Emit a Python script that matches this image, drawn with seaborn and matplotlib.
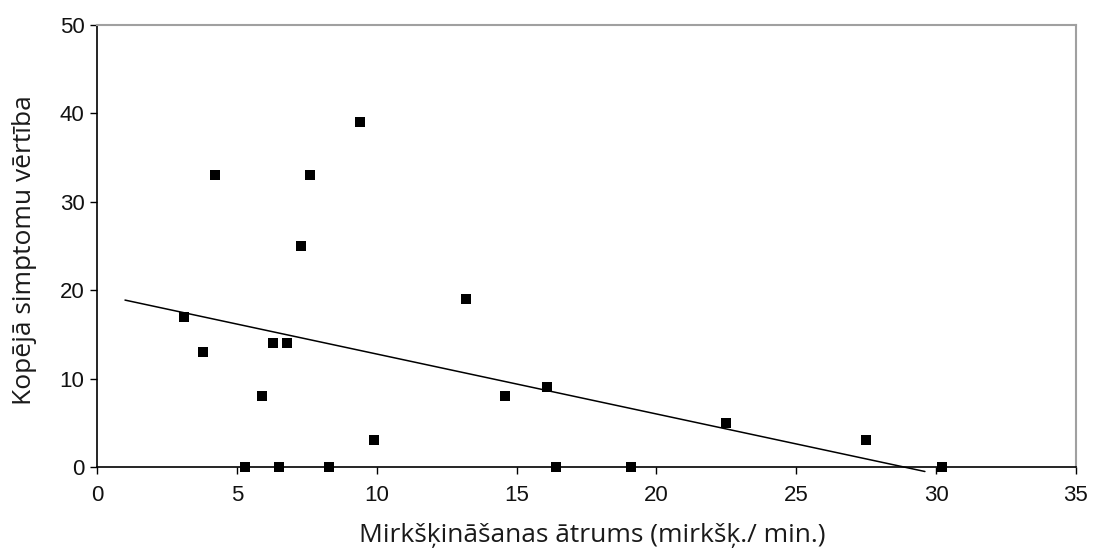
import matplotlib
matplotlib.use("Agg")
import matplotlib.pyplot as plt
import numpy as np
import pandas as pd
import seaborn as sns

# Blink rate (blinks/min) and total symptom score per subject
blink_rate = [3.1, 3.8, 4.2, 5.3, 5.9, 6.3, 6.5, 6.8, 7.3, 7.6, 8.3,
              9.4, 9.9, 13.2, 14.6, 16.1, 16.4, 19.1, 22.5, 27.5, 30.2]
symptom_score = [17, 13, 33, 0, 8, 14, 0, 14, 25, 33, 0,
                 39, 3, 19, 8, 9, 0, 0, 5, 3, 0]

# Linear trend line
trend_intercept = 19.56
trend_slope = -0.678
trend_x = [1.0, 29.6]

x_ticks = [0, 5, 10, 15, 20, 25, 30, 35]
y_ticks = [0, 10, 20, 30, 40, 50]

x_label = "Mirkšķināšanas ātrums (mirkšķ./ min.)"
y_label = "Kopējā simptomu vērtība"

sns.set_theme(style="white")
plt.rcParams["font.family"] = ["Liberation Sans", "DejaVu Sans"]

df = pd.DataFrame({"x": blink_rate, "y": symptom_score})
trend_df = pd.DataFrame({"x": trend_x,
                         "y": [trend_intercept + trend_slope * v for v in trend_x]})

fig = plt.figure(figsize=(10.94, 5.48), dpi=100)
ax = fig.add_axes([0.0887, 0.1478, 0.8948, 0.8066])

sns.lineplot(data=trend_df, x="x", y="y", ax=ax, color="black", linewidth=1.1,
             zorder=2)
for line in ax.lines:
    line.set_clip_on(False)
sns.scatterplot(data=df, x="x", y="y", ax=ax, marker="s", s=60, color="black",
                edgecolor="black", linewidth=0, zorder=3, clip_on=False)

ax.set_xlim(0, 35)
ax.set_ylim(0, 50)
ax.set_xticks(x_ticks)
ax.set_yticks(y_ticks)
ax.tick_params(axis="both", which="major", labelsize=16, length=5, width=1,
               color="black", labelcolor="#111111", direction="out", pad=4)
ax.tick_params(axis="x", bottom=True, pad=8)
ax.tick_params(axis="y", left=True)

for side in ("left", "bottom"):
    ax.spines[side].set_color("black")
    ax.spines[side].set_linewidth(1.2)
for side in ("top", "right"):
    ax.spines[side].set_visible(True)
    ax.spines[side].set_color("#a0a0a0")
    ax.spines[side].set_linewidth(1.5)

label_font = ["Open Sans", "DejaVu Sans"]
ax.set_xlabel(x_label, fontsize=19, family=label_font, color="#1a1a1a")
ax.set_ylabel(y_label, fontsize=19, family=label_font, color="#1a1a1a")
ax.xaxis.label.set_va("baseline")
ax.yaxis.label.set_va("baseline")
ax.xaxis.set_label_coords(0.5056, -0.17)
ax.yaxis.set_label_coords(-0.0674, 0.49)

fig.savefig("out.png", dpi=100, facecolor="white")
